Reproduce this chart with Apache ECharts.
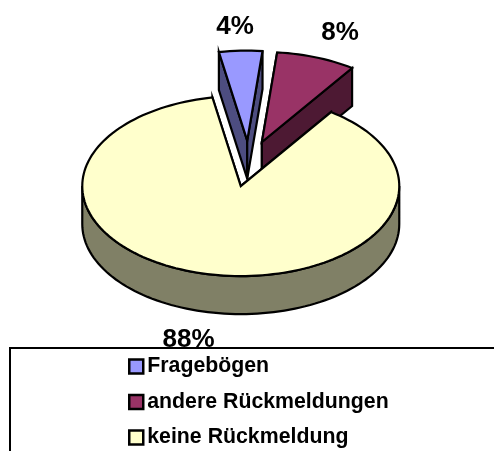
<!DOCTYPE html>
<html lang="de">
<head>
    <meta charset="UTF-8">
    <title>Rückmeldungen</title>
    <script src="https://cdn.jsdelivr.net/npm/echarts@6/dist/echarts.min.js"></script>
    <style>html,body{margin:0;padding:0;background:#fff}</style>
</head>
<body>
<div id="main" style="width:494px;height:451px;"></div>
<script type="text/javascript">
    // chart data
    var categories = ['Fragebögen', 'andere Rückmeldungen', 'keine Rückmeldung'];
    var values = [4.4, 8.1, 87.5];
    var topColors = ['#9999ff', '#993366', '#ffffcc'];
    var sideColors = ['#4d4d80', '#4d1933', '#808066'];

    // look of the tilted pie
    var firstAngle = -10.3;        // degrees clockwise from 12 o'clock
    var center = [248.8, 163.6];
    var rx = 158.5, ry = 90;
    var depth = 38;
    var explodeX = 38, explodeY = 23;
    var labelSpots = [[235, 26.5], [340, 33], [188.5, 340]];

    var total = values.reduce(function (a, b) { return a + b; }, 0);

    function rim(c, deg, dy) {
        var r = deg * Math.PI / 180;
        return [c[0] + rx * Math.sin(r), c[1] - ry * Math.cos(r) + (dy || 0)];
    }

    function arcPoints(c, from, to, dy) {
        var pts = [];
        var n = Math.max(2, Math.ceil(Math.abs(to - from) / 2));
        for (var i = 0; i <= n; i++) {
            pts.push(rim(c, from + (to - from) * i / n, dy));
        }
        return pts;
    }

    function poly(points, fill) {
        return {
            type: 'polygon',
            shape: { points: points },
            style: { fill: fill, stroke: '#000', lineWidth: 2.2, lineJoin: 'miter' }
        };
    }

    function makeRender(index) {
        return function (params, api) {
            var before = 0;
            for (var i = 0; i < index; i++) before += values[i];
            var value = api.value(0);
            var a0 = firstAngle + before / total * 360;
            var a1 = a0 + value / total * 360;
            var mid = (a0 + a1) / 2 * Math.PI / 180;
            var apex = [center[0] + explodeX * Math.sin(mid), center[1] - explodeY * Math.cos(mid)];
            var apexLow = [apex[0], apex[1] + depth];
            var kids = [];

            // radial walls, the top face hides what should not show
            [a0, a1].forEach(function (a) {
                kids.push(poly([rim(apex, a), apex, apexLow, rim(apex, a, depth)], sideColors[index]));
            });
            // front part of the rim
            var f0 = Math.max(a0, 90), f1 = Math.min(a1, 270);
            if (f1 > f0) {
                var wall = arcPoints(apex, f0, f1).concat(arcPoints(apex, f1, f0, depth));
                kids.push(poly(wall, sideColors[index]));
            }
            kids.push(poly([apex].concat(arcPoints(apex, a0, a1)), topColors[index]));
            kids.push({
                type: 'text',
                style: {
                    x: labelSpots[index][0],
                    y: labelSpots[index][1],
                    text: Math.round(value / total * 100) + '%',
                    fill: '#000',
                    align: 'center',
                    verticalAlign: 'middle',
                    font: 'bold 26px "Liberation Sans"'
                }
            });
            return { type: 'group', children: kids };
        };
    }

    var series = categories.map(function (name, i) {
        return {
            type: 'custom',
            name: name,
            coordinateSystem: 'none',
            silent: true,
            itemStyle: { color: topColors[i] },
            renderItem: makeRender(i),
            data: [[values[i]]]
        };
    });

    var myChart = echarts.init(document.getElementById('main'));
    myChart.setOption({
        animation: false,
        tooltip: { show: false },
        graphic: [{
            type: 'rect',
            z: 10,
            silent: true,
            shape: { x: 10, y: 348, width: 520, height: 140 },
            style: { fill: '#fff', stroke: '#000', lineWidth: 2 }
        }],
        legend: {
            z: 20,
            orient: 'vertical',
            left: 128,
            top: 356,
            height: 95,
            padding: 0,
            icon: 'rect',
            itemWidth: 14,
            itemHeight: 14,
            itemGap: 14.5,
            selectedMode: false,
            itemStyle: { borderColor: '#000', borderWidth: 2.5 },
            textStyle: { color: '#000', fontFamily: 'Liberation Sans', fontWeight: 'bold', fontSize: 21.3, padding: [0, 0, 0, -1] },
            data: categories
        },
        series: series
    });
</script>
</body>
</html>
